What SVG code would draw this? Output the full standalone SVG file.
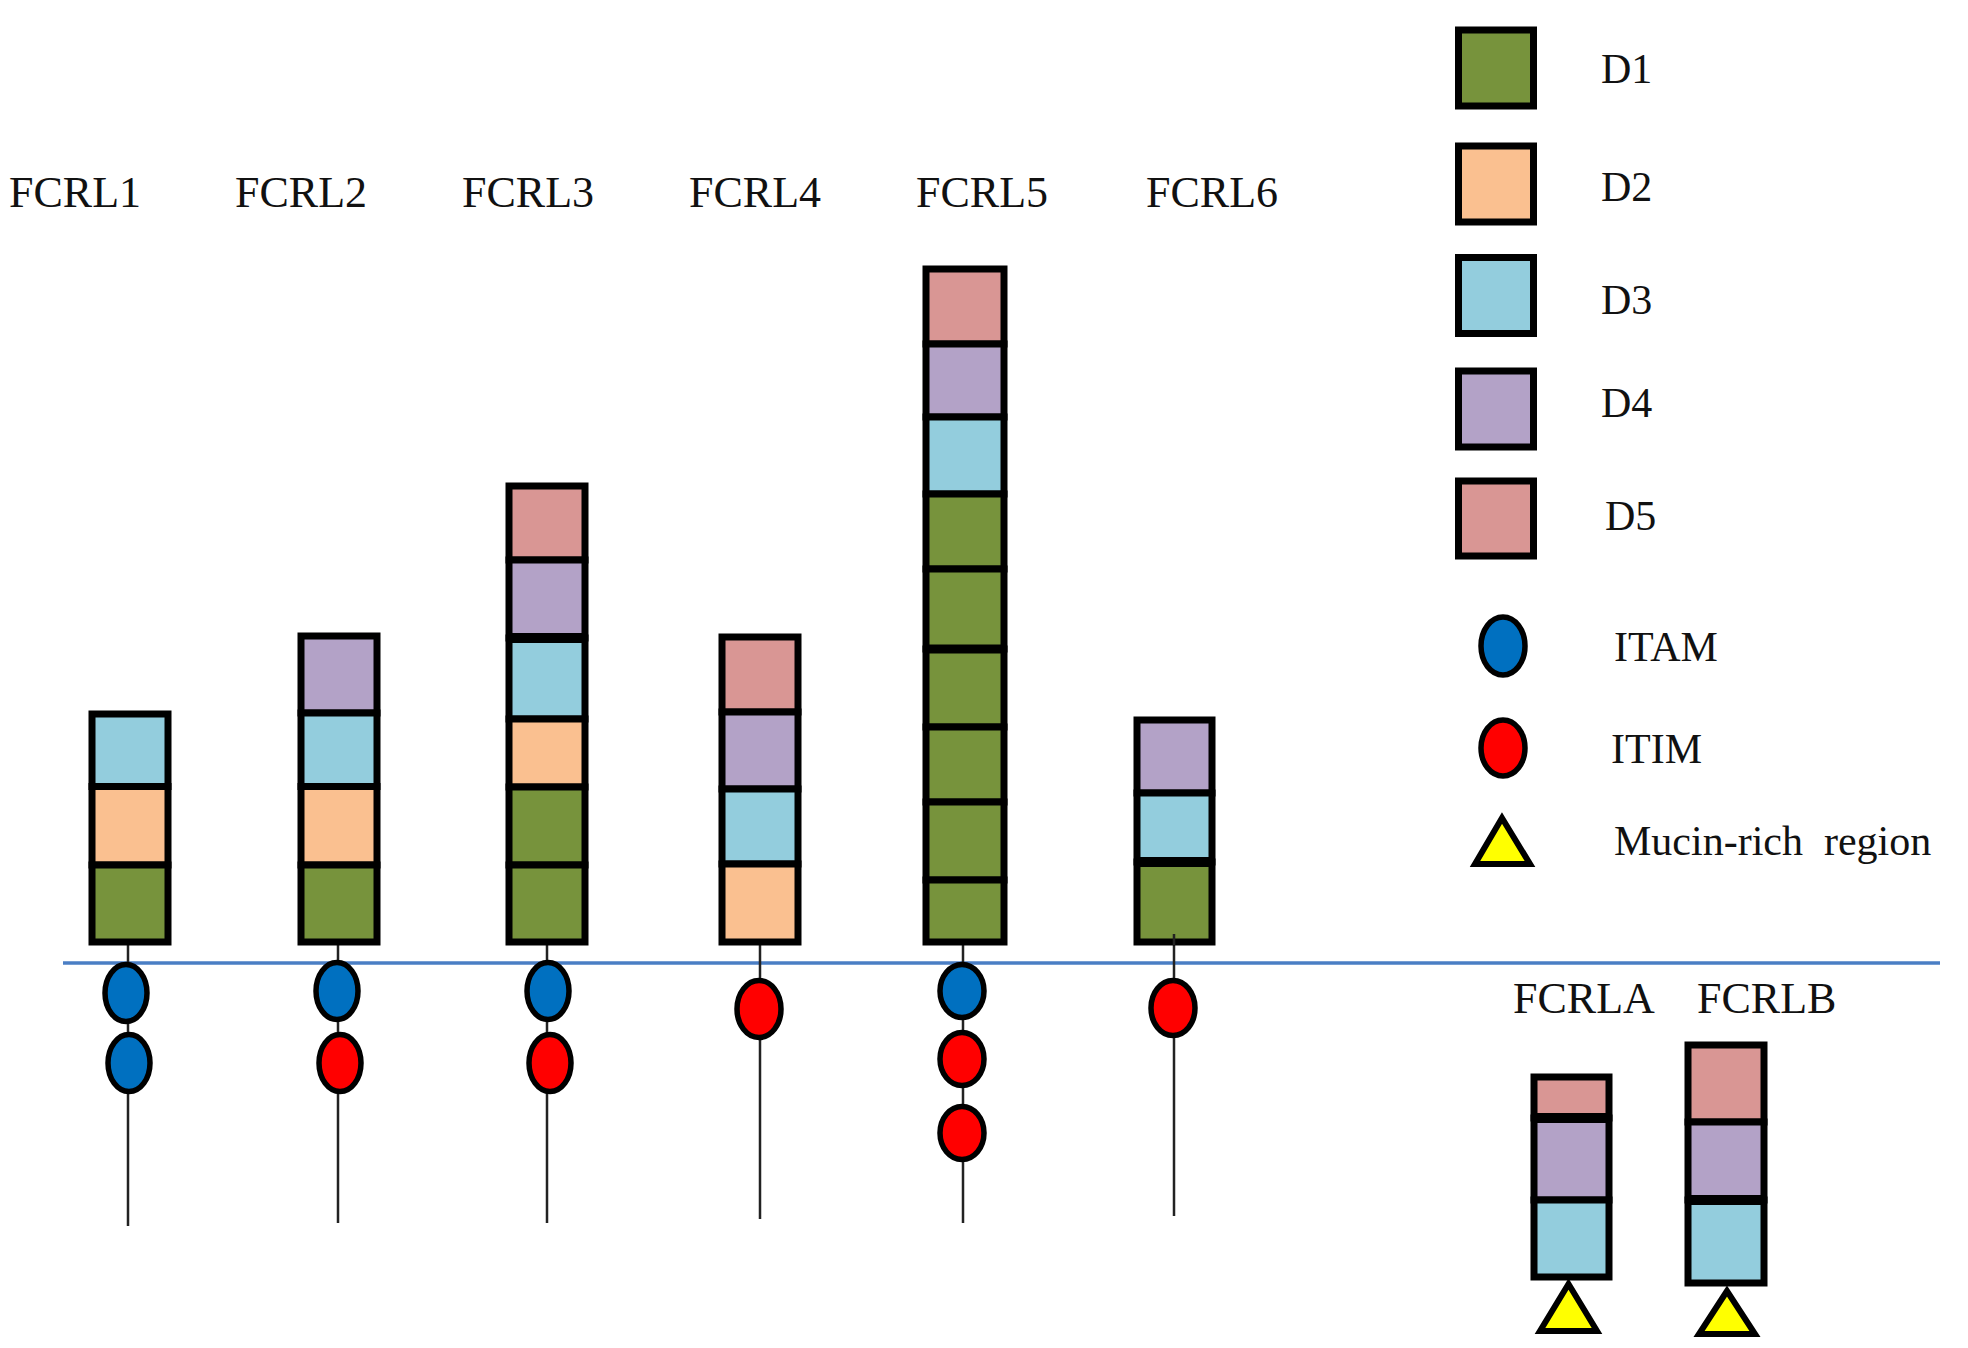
<svg xmlns="http://www.w3.org/2000/svg" width="1968" height="1348" viewBox="0 0 1968 1348">
<style>
.lbl{font-family:"Liberation Serif","Times New Roman",serif;font-size:44px;fill:#111}
.lg{font-family:"Liberation Serif","Times New Roman",serif;font-size:42px;fill:#111}
.s{stroke:#000;stroke-width:7}
.d1{fill:#77933C}.d2{fill:#FAC090}.d3{fill:#93CDDD}.d4{fill:#B3A2C7}.d5{fill:#D99694}
.stem{stroke:#222;stroke-width:2.5}
.itam{fill:#0070C0;stroke:#000;stroke-width:5.5}
.itim{fill:#FF0000;stroke:#000;stroke-width:5.5}
.muc{fill:#FFFF00;stroke:#000;stroke-width:6;stroke-linejoin:miter}
</style>
<rect width="1968" height="1348" fill="#fff"/>
<g id="membrane"><line x1="63" y1="963" x2="1940" y2="963" stroke="#4A7EC4" stroke-width="3.5"/></g>
<g id="connectors">
<line class="stem" x1="128" y1="945" x2="128" y2="1226"/>
<line class="stem" x1="338" y1="945" x2="338" y2="1223"/>
<line class="stem" x1="547" y1="945" x2="547" y2="1223"/>
<line class="stem" x1="760" y1="945" x2="760" y2="1219"/>
<line class="stem" x1="963" y1="945" x2="963" y2="1223"/>
<line class="stem" x1="1174" y1="934" x2="1174" y2="1216"/>
</g>
<g id="FCRL1">
<text class="lbl" x="9" y="207">FCRL1</text>
<rect class="s d3" x="92" y="714" width="76" height="72.5"/>
<rect class="s d2" x="92" y="786.5" width="76" height="78.5"/>
<rect class="s d1" x="92" y="865" width="76" height="77"/>
<ellipse class="itam" cx="126" cy="993" rx="21" ry="28.5"/>
<ellipse class="itam" cx="129" cy="1063" rx="21" ry="28.5"/>
</g>
<g id="FCRL2">
<text class="lbl" x="235" y="207">FCRL2</text>
<rect class="s d4" x="301" y="636" width="76" height="77"/>
<rect class="s d3" x="301" y="713" width="76" height="73.5"/>
<rect class="s d2" x="301" y="786.5" width="76" height="78.5"/>
<rect class="s d1" x="301" y="865" width="76" height="77"/>
<ellipse class="itam" cx="337" cy="991" rx="21" ry="28.5"/>
<ellipse class="itim" cx="340" cy="1063" rx="21" ry="28.5"/>
</g>
<g id="FCRL3">
<text class="lbl" x="462" y="207">FCRL3</text>
<rect class="s d5" x="509" y="486" width="76" height="74"/>
<rect class="s d4" x="509" y="560" width="76" height="78"/>
<rect class="s d3" x="509" y="638" width="76" height="81"/>
<rect class="s d2" x="509" y="719" width="76" height="68"/>
<rect class="s d1" x="509" y="787" width="76" height="78"/>
<rect class="s d1" x="509" y="865" width="76" height="77"/>
<line x1="509" y1="638" x2="585" y2="638" stroke="#000" stroke-width="10"/>
<ellipse class="itam" cx="548" cy="991" rx="21" ry="28.5"/>
<ellipse class="itim" cx="550" cy="1063" rx="21" ry="28.5"/>
</g>
<g id="FCRL4">
<text class="lbl" x="689" y="207">FCRL4</text>
<rect class="s d5" x="722" y="637" width="76" height="75"/>
<rect class="s d4" x="722" y="712" width="76" height="77"/>
<rect class="s d3" x="722" y="789" width="76" height="75"/>
<rect class="s d2" x="722" y="864" width="76" height="78"/>
<ellipse class="itim" cx="759" cy="1009" rx="22" ry="28.5"/>
</g>
<g id="FCRL5">
<text class="lbl" x="916" y="207">FCRL5</text>
<rect class="s d5" x="926" y="269" width="78" height="75"/>
<rect class="s d4" x="926" y="344" width="78" height="73"/>
<rect class="s d3" x="926" y="417" width="78" height="77"/>
<rect class="s d1" x="926" y="494" width="78" height="75"/>
<rect class="s d1" x="926" y="569" width="78" height="80"/>
<rect class="s d1" x="926" y="649" width="78" height="78"/>
<rect class="s d1" x="926" y="727" width="78" height="75"/>
<rect class="s d1" x="926" y="802" width="78" height="78"/>
<rect class="s d1" x="926" y="880" width="78" height="62"/>
<line x1="926" y1="649" x2="1004" y2="649" stroke="#000" stroke-width="9"/>
<ellipse class="itam" cx="962" cy="991" rx="22" ry="26.5"/>
<ellipse class="itim" cx="962" cy="1059" rx="22" ry="26.5"/>
<ellipse class="itim" cx="962" cy="1133" rx="22" ry="26.5"/>
</g>
<g id="FCRL6">
<text class="lbl" x="1146" y="207">FCRL6</text>
<rect class="s d4" x="1137" y="720" width="75" height="73"/>
<rect class="s d3" x="1137" y="793" width="75" height="69"/>
<rect class="s d1" x="1137" y="862" width="75" height="80"/>
<line x1="1137" y1="862" x2="1212" y2="862" stroke="#000" stroke-width="10"/>
<line class="stem" x1="1174" y1="934" x2="1174" y2="945"/>
<ellipse class="itim" cx="1173" cy="1008" rx="22" ry="27.5"/>
</g>
<g id="FCRLA">
<text class="lbl" x="1513" y="1013">FCRLA</text>
<rect class="s d5" x="1534" y="1077" width="75" height="41"/>
<rect class="s d4" x="1534" y="1118" width="75" height="82"/>
<rect class="s d3" x="1534" y="1200" width="75" height="77"/>
<line x1="1534" y1="1118" x2="1609" y2="1118" stroke="#000" stroke-width="10"/>
<polygon class="muc" points="1568.5,1284 1540,1331 1597,1331"/>
</g>
<g id="FCRLB">
<text class="lbl" x="1697" y="1013">FCRLB</text>
<rect class="s d5" x="1688" y="1045" width="76" height="77"/>
<rect class="s d4" x="1688" y="1122" width="76" height="78"/>
<rect class="s d3" x="1688" y="1200" width="76" height="83"/>
<line x1="1688" y1="1200" x2="1764" y2="1200" stroke="#000" stroke-width="10"/>
<polygon class="muc" points="1727,1291 1699,1334 1755,1334"/>
</g>
<g id="legend">
<rect class="s d1" x="1458.5" y="30" width="75" height="76"/>
<text class="lg" x="1601" y="83">D1</text>
<rect class="s d2" x="1458.5" y="146" width="75" height="76"/>
<text class="lg" x="1601" y="201">D2</text>
<rect class="s d3" x="1458.5" y="257.5" width="75" height="76"/>
<text class="lg" x="1601" y="314">D3</text>
<rect class="s d4" x="1458.5" y="371" width="75" height="76"/>
<text class="lg" x="1601" y="417">D4</text>
<rect class="s d5" x="1458.5" y="481" width="75" height="75"/>
<text class="lg" x="1605" y="530">D5</text>
<ellipse class="itam" cx="1503" cy="646" rx="22" ry="29"/>
<text class="lg" x="1614" y="661">ITAM</text>
<ellipse class="itim" cx="1503" cy="748" rx="22" ry="28"/>
<text class="lg" x="1611" y="763">ITIM</text>
<polygon class="muc" points="1502,818 1475,864 1530,864"/>
<text class="lg" x="1614" y="855" xml:space="preserve">Mucin-rich  region</text>
</g>
</svg>
